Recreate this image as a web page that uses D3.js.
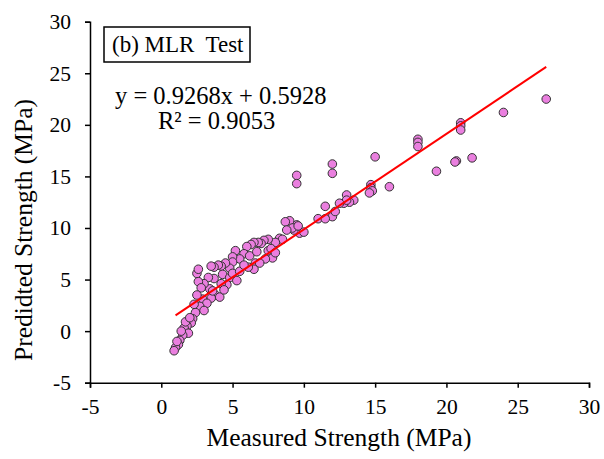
<!DOCTYPE html>
<html>
<head>
<meta charset="utf-8">
<script src="https://cdn.jsdelivr.net/npm/d3@7"></script>
<style>
  body { margin: 0; background: #fff; }
  svg text { font-family: "Liberation Serif", Tinos, "Times New Roman", "DejaVu Serif", serif; fill: #000; }
</style>
</head>
<body>
<svg width="604" height="459"></svg>
<script>
const svg = d3.select('svg');
const serif = '"Liberation Serif", Tinos, "Times New Roman", "DejaVu Serif", serif';

// measured (x) vs predicted (y)
const measured = [
  27, 24, 21, 21, 21, 18, 18, 18, 20.7, 20.6, 21.8, 19.3, 16, 15,
  14.7, 14.7, 14.8, 14.6, 13.5, 13.2, 13, 12.8, 13.0, 12.5,
  12, 12, 12, 12.2, 11.5, 11, 11.5,
  9.5, 9.5, 9.5, 9.7, 9.3, 9, 8.7, 9.2, 9.6,
  8.3, 8.5, 8, 7.5, 7.2, 7, 6.8, 7.5, 7.8, 7.3,
  6.5, 6.3, 6.0, 5.8, 5.5, 5.2, 6.2, 6.6, 6.9, 6.5, 6.1,
  5, 5, 4.8, 4.5, 4.2, 4, 3.7, 3.5, 4.3, 4.8, 5.3, 5.0, 4.6, 4.2,
  3.7, 3.3, 3.4, 3.8, 4.1, 3.5, 3, 2.6, 2.5, 2.6, 2.8, 2.9, 3.2, 2.7,
  2.4, 2.3, 2.2, 2.1, 1.8, 1.6, 1.9, 1.5, 1.3, 1.2, 1.0, 0.9, 1.1, 1.4,
  1.7, 2.0, 3.0, 2.5, 3.6, 4.4, 5.5, 5.8, 6.7, 7.7, 8.0, 8.8, 10
];
const predicted = [
  22.5, 21.2, 20.2, 19.9, 19.5, 18.6, 18.3, 17.9, 16.5, 16.4, 16.8, 15.5, 14.0, 16.9,
  14.2, 13.9, 13.6, 13.4, 12.7, 12.5, 13.2, 12.4, 12.7, 12.4,
  16.2, 15.3, 11.1, 11.6, 12.1, 10.9, 10.9,
  15.1, 14.3, 10.3, 9.5, 9.8, 10.7, 10.6, 10.0, 10.2,
  9.0, 8.9, 8.6, 8.9, 8.8, 8.5, 8.6, 7.8, 7.1, 7.0,
  8.6, 8.4, 8.2, 7.5, 7.0, 7.8, 7.3, 6.6, 6.6, 6.0, 6.2,
  7.2, 6.7, 6.1, 6.6, 6.3, 6.4, 6.2, 6.3, 5.5, 5.2, 4.9, 5.6, 4.5, 4.6,
  5.1, 5.2, 4.1, 3.5, 3.3, 3.2, 4.6, 4.8, 5.6, 6.0, 4.2, 3.1, 2.7, 2.4,
  1.8, 2.6, 1.2, 0.8, 0.5, 0.3, -0.2, -0.4, -0.9, -1.3, -1.6, -1.9, -1.0, 0.0,
  0.9, 1.3, 2.0, 3.5, 3.9, 4.0, 5.8, 6.4, 7.7, 8.0, 7.6, 9.8, 9.6
];
const xTicks = [-5, 0, 5, 10, 15, 20, 25, 30];
const yTicks = [-5, 0, 5, 10, 15, 20, 25, 30];
const slope = 0.9268, intercept = 0.5928;
const fitRange = [1, 27];

const data = measured.map((m, i) => ({x: m, y: predicted[i]}));

const x = d3.scaleLinear().domain([-5, 30]).range([90, 589]);
const y = d3.scaleLinear().domain([-5, 30]).range([382.7, 21.7]);
const fmt = d => String(d); // plain hyphen for negatives

// axes
const xAxis = svg.append('g')
  .attr('transform', `translate(0,${y(-5)})`)
  .call(d3.axisBottom(x).tickValues(xTicks).tickSize(5).tickPadding(8).tickFormat(fmt));
const yAxis = svg.append('g')
  .attr('transform', `translate(${x(-5)},0)`)
  .call(d3.axisLeft(y).tickValues(yTicks).tickSize(5).tickPadding(14).tickFormat(fmt));

[xAxis, yAxis].forEach(a => {
  a.attr('font-family', serif).attr('font-size', 21.5);
  a.select('.domain').attr('stroke', '#000').attr('stroke-width', 1.5);
  a.selectAll('.tick line').attr('stroke', '#000').attr('stroke-width', 1.5);
  a.selectAll('.tick text').attr('fill', '#000');
});
xAxis.selectAll('.tick text').attr('dy', '0.85em');

// axis titles
svg.append('text')
  .attr('x', 339)
  .attr('y', 446)
  .attr('text-anchor', 'middle')
  .attr('font-size', 25.5)
  .text('Measured Strength (MPa)');

svg.append('text')
  .attr('transform', 'translate(32,230) rotate(-90)')
  .attr('text-anchor', 'middle')
  .attr('font-size', 25.5)
  .text('Predidted Strength (MPa)');

// points
svg.append('g').selectAll('circle').data(data)
  .enter().append('circle')
  .attr('cx', d => x(d.x))
  .attr('cy', d => y(d.y))
  .attr('r', 4.3)
  .attr('fill', '#ea7fdf')
  .attr('stroke', '#333')
  .attr('stroke-width', 1);

// regression line
svg.append('line')
  .attr('x1', x(fitRange[0])).attr('y1', y(slope * fitRange[0] + intercept))
  .attr('x2', x(fitRange[1])).attr('y2', y(slope * fitRange[1] + intercept))
  .attr('stroke', '#ff0000')
  .attr('stroke-width', 2);

// label box
svg.append('rect')
  .attr('x', 104).attr('y', 27).attr('width', 146).attr('height', 35)
  .attr('fill', '#fff').attr('stroke', '#000').attr('stroke-width', 1.5);
svg.append('text')
  .attr('x', 112).attr('y', 52)
  .attr('font-size', 23)
  .attr('xml:space', 'preserve')
  .text('(b) MLR  Test');

// equation
svg.append('text')
  .attr('x', 115).attr('y', 104)
  .attr('font-size', 24.5)
  .text('y = 0.9268x + 0.5928');
svg.append('text')
  .attr('x', 158).attr('y', 129)
  .attr('font-size', 24.5)
  .text('R² = 0.9053');
</script>
</body>
</html>
